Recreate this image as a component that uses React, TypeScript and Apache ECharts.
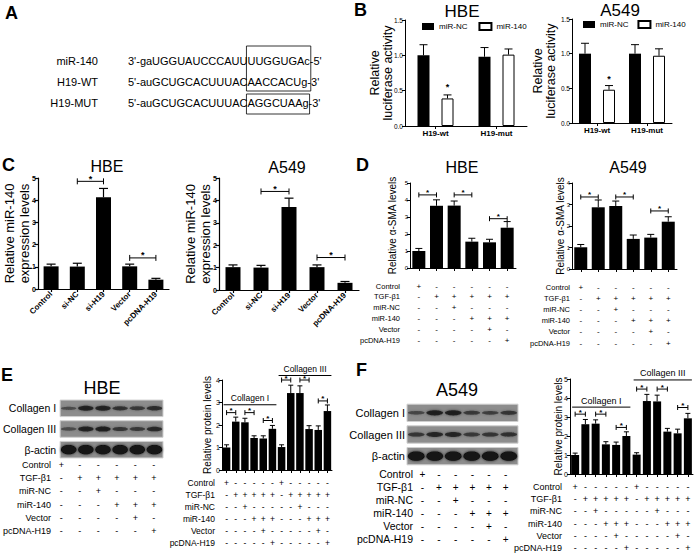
import React, { useEffect, useRef } from "react";
import * as echarts from "echarts";

const FONT = "'Liberation Sans', Arial, Helvetica, sans-serif";
const NARROW = "'Liberation Sans Narrow', 'Arial Narrow', 'Liberation Sans', Arial, sans-serif";

/* ---------------- data ---------------- */
// A: sequences
const seqNames = ["miR-140", "H19-WT", "H19-MUT"];
const seqHead = ["3'-gaUGGUAUCCCAUU", "5'-auGCUGCACUUUAC", "5'-auGCUGCACUUUAC"];
const seqSite = ["UUGGUGAc", "AACCACUg", "AGGCUAAg"];
const seqTail = ["-5'", "-3'", "-3'"];

// B: luciferase
const lucCats = ["H19-wt", "H19-mut"];
const lucNames = ["miR-NC", "miR-140"];
const lucHbeNC = [1.0, 0.98];
const lucHbeNCErr = [0.15, 0.13];
const lucHbe140 = [0.39, 1.01];
const lucHbe140Err = [0.05, 0.08];
const lucA549NC = [1.0, 1.0];
const lucA549NCErr = [0.15, 0.13];
const lucA549140 = [0.48, 0.97];
const lucA549140Err = [0.06, 0.1];
const lucHbeStars = [[0, 1, 0.53]];
const lucA549Stars = [[0, 1, 0.62]];

// C: qPCR miR-140
const qCats = ["Control", "si-NC", "si-H19", "Vector", "pcDNA-H19"];
const qHbe = [1.02, 1.01, 4.13, 1.02, 0.42];
const qHbeErr = [0.1, 0.15, 0.4, 0.1, 0.06];
const qA549 = [1.02, 1.0, 3.7, 1.02, 0.32];
const qA549Err = [0.1, 0.1, 0.4, 0.1, 0.06];
const qHbeBrackets = [[1, 2, 4.85], [3, 4, 1.4]];
const qA549Brackets = [[1, 2, 4.4], [3, 4, 1.45]];

// D: alpha-SMA
const treatRows = ["Control", "TGF-β1", "miR-NC", "miR-140", "Vector", "pcDNA-H19"];
const treatSigns = ["+-----", "-+++++", "--+---", "---+++", "----+-", "-----+"];
const lanes6 = ["1", "2", "3", "4", "5", "6"];
const smaHbe = [1.0, 3.66, 3.67, 1.55, 1.51, 2.37];
const smaHbeErr = [0.15, 0.35, 0.27, 0.2, 0.18, 0.36];
const smaA549 = [1.01, 2.87, 2.93, 1.4, 1.46, 2.2];
const smaA549Err = [0.13, 0.34, 0.23, 0.18, 0.15, 0.23];
const smaHbeBrackets = [[0, 1, 4.3], [2, 3, 4.3], [4, 5, 2.9]];
const smaA549Brackets = [[0, 1, 3.35], [2, 3, 3.35], [4, 5, 2.7]];

// E/F: western blots (band strength per lane)
const blotRows = ["Collagen I", "Collagen III", "β-actin"];
const hbeCol1Bands = [0.35, 0.85, 0.85, 0.65, 0.55, 0.7];
const hbeCol3Bands = [0.35, 0.85, 0.9, 0.6, 0.55, 0.75];
const hbeActinBands = [2, 2, 2, 2, 2, 2];
const a549Col1Bands = [0.4, 0.9, 0.9, 0.55, 0.5, 0.6];
const a549Col3Bands = [0.6, 0.8, 0.8, 0.55, 0.6, 0.65];
const a549ActinBands = [2, 2, 2, 2, 2, 2];

// E/F: protein quantification (Collagen I lanes 1-6, Collagen III lanes 7-12)
const lanes12 = ["1", "2", "3", "4", "5", "6", "7", "8", "9", "10", "11", "12"];
const hbeProt = [1.0, 2.15, 2.12, 1.42, 1.4, 1.83, 1.02, 3.42, 3.42, 1.82, 1.78, 2.62];
const hbeProtErr = [0.12, 0.2, 0.18, 0.1, 0.12, 0.15, 0.1, 0.35, 0.32, 0.15, 0.18, 0.27];
const a549Prot = [1.0, 2.62, 2.65, 1.56, 1.53, 2.0, 1.02, 3.84, 3.82, 2.23, 2.14, 2.93];
const a549ProtErr = [0.1, 0.25, 0.2, 0.14, 0.15, 0.22, 0.1, 0.35, 0.33, 0.17, 0.22, 0.26];
const hbeProtBrackets = [[0, 1, 2.55], [2, 3, 2.55], [4, 5, 2.2], [6, 7, 4.0], [8, 9, 4.0], [10, 11, 3.07]];
const a549ProtBrackets = [[0, 1, 3.15], [2, 3, 3.15], [4, 5, 2.45], [6, 7, 4.47], [8, 9, 4.47], [10, 11, 3.5]];
const protGroupNames = ["Collagen I", "Collagen III"];
const protGroupLanes = [[0, 5], [6, 11]];
const hbeGroupLevels = [2.9, 4.2];
const a549GroupLevels = [3.52, 4.95];

/* ---------------- helpers ---------------- */
const ln = (x1: number, y1: number, x2: number, y2: number, w = 1) => ({
  type: "line",
  shape: { x1, y1, x2, y2 },
  style: { stroke: "#000", lineWidth: w },
});

const tx = (
  x: number,
  y: number,
  text: string,
  size: number,
  align = "center",
  vAlign = "middle",
  weight = "normal",
  family = FONT
) => ({
  type: "text",
  x,
  y,
  silent: true,
  style: {
    text,
    fill: "#000",
    fontSize: size,
    fontFamily: family,
    fontWeight: weight,
    align,
    textAlign: align,
    verticalAlign: vAlign,
    textVerticalAlign: vAlign,
  },
});

function buildOption() {
  const o: any = { grid: [], xAxis: [], yAxis: [], series: [], legend: [], graphic: [] };

  const addGrid = (r: any) => {
    const gi = o.grid.length;
    o.grid.push({ left: r.left, top: r.top, width: r.width, height: r.height });
    return gi;
  };

  function barPanel(p: any) {
    const gi = addGrid(p);
    const lw = p.lw ?? 1;
    o.xAxis.push({
      gridIndex: gi,
      type: "category",
      data: p.cats,
      axisLine: { show: true, lineStyle: { color: "#000", width: lw } },
      axisTick: { show: true, alignWithLabel: true, interval: 0, length: 3, lineStyle: { color: "#000", width: lw } },
      axisLabel: p.catLabel
        ? { show: true, interval: 0, color: "#000", fontFamily: FONT, ...p.catLabel }
        : { show: false },
      splitLine: { show: false },
    });
    o.yAxis.push({
      gridIndex: gi,
      type: "value",
      min: 0,
      max: p.yMax,
      interval: p.yStep,
      axisLine: { show: true, lineStyle: { color: "#000", width: lw } },
      axisTick: { show: true, length: 3, lineStyle: { color: "#000", width: lw } },
      axisLabel: {
        color: "#000",
        fontFamily: FONT,
        fontSize: p.yLabelSize,
        fontWeight: p.yLabelBold ? "bold" : "normal",
        margin: 2,
        formatter: (v: number) => v.toFixed(p.yDec),
      },
      splitLine: { show: false },
      name: p.yName,
      nameLocation: "middle",
      nameGap: p.yNameGap,
      nameMoveOverlap: false,
      nameTextStyle: {
        color: "#000",
        fontFamily: FONT,
        fontSize: p.yNameSize,
        lineHeight: p.yNameLH ?? Math.round(p.yNameSize * 1.1),
      },
    });
    const bars: any[] = p.bars;
    const n = bars.length;
    const pitch = p.pitch ?? 0;
    const gap = n > 1 ? ((pitch - p.barWidth) / p.barWidth) * 100 + "%" : "30%";
    bars.forEach((b) =>
      o.series.push({
        type: "bar",
        name: b.name,
        xAxisIndex: gi,
        yAxisIndex: gi,
        data: b.values,
        barWidth: p.barWidth,
        barGap: gap,
        itemStyle: { color: b.fill, borderColor: "#000", borderWidth: b.fill === "#000" ? 0 : 1 },
      })
    );
    const offs = bars.map((_: any, k: number) => (k - (n - 1) / 2) * pitch);
    // error bars (upper only)
    const errs: number[][] = [];
    bars.forEach((b: any, k: number) => b.values.forEach((v: number, ci: number) => errs.push([ci, v, b.errs[ci], k])));
    o.series.push({
      type: "custom",
      xAxisIndex: gi,
      yAxisIndex: gi,
      clip: false,
      z: 3,
      silent: true,
      data: errs,
      renderItem: (params: any, api: any) => {
        const [ci, v, e, k] = errs[params.dataIndex];
        const p0 = api.coord([ci, v]);
        const p1 = api.coord([ci, v + e]);
        const x = p0[0] + offs[k];
        return {
          type: "group",
          children: [ln(x, p0[1], x, p1[1], p.errW ?? 1), ln(x - p.capW / 2, p1[1], x + p.capW / 2, p1[1], p.errW ?? 1)],
        };
      },
    });
    if (p.stars) {
      const st: number[][] = p.stars;
      o.series.push({
        type: "custom",
        xAxisIndex: gi,
        yAxisIndex: gi,
        clip: false,
        z: 4,
        silent: true,
        data: st,
        renderItem: (params: any, api: any) => {
          const [ci, k, lv] = st[params.dataIndex];
          const pt = api.coord([ci, lv]);
          return tx(pt[0] + offs[k], pt[1] + 3, "*", p.starSize, "center", "bottom", "bold");
        },
      });
    }
    if (p.brackets) {
      const br: number[][] = p.brackets;
      o.series.push({
        type: "custom",
        xAxisIndex: gi,
        yAxisIndex: gi,
        clip: false,
        z: 4,
        silent: true,
        data: br,
        renderItem: (params: any, api: any) => {
          const [a, b, lv] = br[params.dataIndex];
          const p1 = api.coord([a, lv]);
          const p2 = api.coord([b, lv]);
          const t = p.tickH ?? 2.5;
          return {
            type: "group",
            children: [
              ln(p1[0], p1[1], p2[0], p2[1]),
              ln(p1[0], p1[1] - t, p1[0], p1[1] + t),
              ln(p2[0], p2[1] - t, p2[0], p2[1] + t),
              tx((p1[0] + p2[0]) / 2, p1[1] + 2, "*", p.starSize, "center", "bottom", "bold"),
            ],
          };
        },
      });
    }
    if (p.groups) {
      const gr: any[] = p.groups;
      o.series.push({
        type: "custom",
        xAxisIndex: gi,
        yAxisIndex: gi,
        clip: false,
        z: 4,
        silent: true,
        data: gr.map((g) => [g[0], g[2]]),
        renderItem: (params: any, api: any) => {
          const [a, b, lv, name] = gr[params.dataIndex];
          const p1 = api.coord([a, lv]);
          const p2 = api.coord([b, lv]);
          const x1 = p1[0] - 3;
          const x2 = p2[0] + 4;
          return {
            type: "group",
            children: [ln(x1, p1[1], x2, p1[1]), tx((x1 + x2) / 2, p1[1] - 2, name, p.groupSize, "center", "bottom", "normal", NARROW)],
          };
        },
      });
    }
  }

  function tablePanel(p: any) {
    const gi = addGrid(p);
    o.xAxis.push({ gridIndex: gi, type: "category", data: p.cols, show: false });
    o.yAxis.push({
      gridIndex: gi,
      type: "category",
      data: treatRows,
      inverse: true,
      axisLine: { show: false },
      axisTick: { show: false },
      splitLine: { show: false },
      axisLabel: { show: true, interval: 0, color: "#000", fontFamily: NARROW, fontSize: p.labelSize, margin: p.labelMargin },
    });
    const cells: any[] = [];
    treatRows.forEach((_, r) => p.cols.forEach((_c: string, c: number) => cells.push([c, r, treatSigns[r][c % 6]])));
    o.series.push({
      type: "custom",
      xAxisIndex: gi,
      yAxisIndex: gi,
      clip: false,
      silent: true,
      data: cells.map((d) => [d[0], d[1]]),
      renderItem: (params: any, api: any) => {
        const [c, r, s] = cells[params.dataIndex];
        const pt = api.coord([c, r]);
        return tx(pt[0], pt[1], s, p.signSize, "center", "middle", "normal", NARROW);
      },
    });
  }

  function blotPanel(p: any) {
    const gi = addGrid(p);
    o.xAxis.push({ gridIndex: gi, type: "category", data: lanes6, show: false });
    o.yAxis.push({
      gridIndex: gi,
      type: "category",
      data: blotRows,
      inverse: true,
      axisLine: { show: false },
      axisTick: { show: false },
      splitLine: { show: false },
      axisLabel: { show: true, interval: 0, color: "#000", fontFamily: NARROW, fontSize: p.labelSize, margin: p.labelMargin },
    });
    const strips = blotRows.map((_, r) => [0, r]);
    o.series.push({
      type: "custom",
      xAxisIndex: gi,
      yAxisIndex: gi,
      clip: false,
      silent: true,
      z: 1,
      data: strips,
      renderItem: (params: any, api: any) => {
        const r = strips[params.dataIndex][1];
        const cy = api.coord([0, r])[1];
        const h = api.size([1, 1])[1] * 0.8;
        const cs = params.coordSys;
        return {
          type: "rect",
          shape: { x: cs.x, y: cy - h / 2, width: cs.width, height: h },
          style: { fill: "#8d8d8d", stroke: "#cfcfcf", lineWidth: 1 },
        };
      },
    });
    const bands: number[][] = [];
    p.bands.forEach((row: number[], r: number) => row.forEach((v, l) => bands.push([l, r, v])));
    o.series.push({
      type: "custom",
      xAxisIndex: gi,
      yAxisIndex: gi,
      clip: false,
      silent: true,
      z: 2,
      data: bands.map((b) => [b[0], b[1]]),
      renderItem: (params: any, api: any) => {
        const [l, r, v] = bands[params.dataIndex];
        const pt = api.coord([l, r]);
        const bw = api.size([1, 1])[0];
        const a = Math.min(1, 0.3 + 0.55 * v);
        return {
          type: "ellipse",
          shape: { cx: pt[0], cy: pt[1], rx: bw * 0.45, ry: 1 + 1.8 * v },
          style: { fill: `rgba(18,18,18,${a})`, shadowBlur: 3, shadowColor: `rgba(0,0,0,${a * 0.8})` },
        };
      },
    });
  }

  /* ---------- panel B ---------- */
  barPanel({
    left: 405, top: 20, width: 122, height: 106,
    cats: lucCats, catLabel: { fontSize: 8, fontWeight: "bold", margin: 3 },
    yMax: 1.5, yStep: 0.5, yDec: 1, yLabelSize: 6.5,
    yName: "Relative\nluciferase activity", yNameSize: 12.5, yNameLH: 13, yNameGap: 11,
    bars: [
      { name: lucNames[0], values: lucHbeNC, errs: lucHbeNCErr, fill: "#000" },
      { name: lucNames[1], values: lucHbe140, errs: lucHbe140Err, fill: "#fff" },
    ],
    barWidth: 12, pitch: 24, capW: 8, stars: lucHbeStars, starSize: 9,
  });
  barPanel({
    left: 572, top: 19, width: 100, height: 104,
    cats: lucCats, catLabel: { fontSize: 8, fontWeight: "bold", margin: 3 },
    yMax: 1.5, yStep: 0.5, yDec: 1, yLabelSize: 6.5,
    yName: "Relative\nluciferase activity", yNameSize: 12.5, yNameLH: 13, yNameGap: 15,
    bars: [
      { name: lucNames[0], values: lucA549NC, errs: lucA549NCErr, fill: "#000" },
      { name: lucNames[1], values: lucA549140, errs: lucA549140Err, fill: "#fff" },
    ],
    barWidth: 12, pitch: 24, capW: 8, stars: lucA549Stars, starSize: 9,
  });
  const legendBase = {
    data: lucNames, icon: "rect", itemWidth: 12, itemHeight: 7, padding: 0, selectedMode: false,
    orient: "horizontal", textStyle: { fontSize: 8, fontFamily: FONT, color: "#000" },
  };
  o.legend.push({ ...legendBase, left: 422, top: 22, itemGap: 11 });
  o.legend.push({ ...legendBase, left: 583, top: 20, itemGap: 9 });

  /* ---------- panel C ---------- */
  const cLabel = { fontSize: 8, fontWeight: "bold", rotate: 45, margin: 4 };
  barPanel({
    left: 38, top: 178, width: 131, height: 111, lw: 1.2,
    cats: qCats, catLabel: cLabel,
    yMax: 5, yStep: 1, yDec: 0, yLabelSize: 7, yLabelBold: true,
    yName: "Relative miR-140\nexpression levels", yNameSize: 13, yNameLH: 15, yNameGap: 6.5,
    bars: [{ name: "HBE-qpcr", values: qHbe, errs: qHbeErr, fill: "#000" }],
    barWidth: 15, capW: 9, errW: 1.2, brackets: qHbeBrackets, starSize: 9, tickH: 3,
  });
  barPanel({
    left: 219, top: 178, width: 140, height: 112, lw: 1.2,
    cats: qCats, catLabel: cLabel,
    yMax: 5, yStep: 1, yDec: 0, yLabelSize: 7, yLabelBold: true,
    yName: "Relative miR-140\nexpression levels", yNameSize: 13, yNameLH: 15, yNameGap: 6.5,
    bars: [{ name: "A549-qpcr", values: qA549, errs: qA549Err, fill: "#000" }],
    barWidth: 15, capW: 9, errW: 1.2, brackets: qA549Brackets, starSize: 9, tickH: 3,
  });

  /* ---------- panel D ---------- */
  barPanel({
    left: 410, top: 183, width: 106, height: 85,
    cats: lanes6, catLabel: null,
    yMax: 5, yStep: 1, yDec: 0, yLabelSize: 6,
    yName: "Relative α-SMA levels", yNameSize: 10, yNameGap: 12,
    bars: [{ name: "HBE-sma", values: smaHbe, errs: smaHbeErr, fill: "#000" }],
    barWidth: 13, capW: 7, brackets: smaHbeBrackets, starSize: 8,
  });
  barPanel({
    left: 572, top: 183, width: 105, height: 86,
    cats: lanes6, catLabel: null,
    yMax: 4, yStep: 1, yDec: 0, yLabelSize: 6,
    yName: "Relative α-SMA levels", yNameSize: 10, yNameGap: 6.5,
    bars: [{ name: "A549-sma", values: smaA549, errs: smaA549Err, fill: "#000" }],
    barWidth: 13, capW: 7, brackets: smaA549Brackets, starSize: 8,
  });
  tablePanel({ left: 410, top: 280.6, width: 106, height: 64.8, cols: lanes6, labelSize: 7.5, labelMargin: 10, signSize: 8 });
  tablePanel({ left: 572, top: 281.4, width: 105, height: 67.2, cols: lanes6, labelSize: 7.5, labelMargin: 2, signSize: 8 });

  /* ---------- panel E ---------- */
  blotPanel({ left: 52, top: 398, width: 111, height: 62, labelSize: 10.5, labelMargin: 4, bands: [hbeCol1Bands, hbeCol3Bands, hbeActinBands] });
  tablePanel({ left: 52, top: 458.4, width: 111, height: 79.2, cols: lanes6, labelSize: 9, labelMargin: 1, signSize: 9 });
  const hbeGroups = protGroupNames.map((nm, i) => [protGroupLanes[i][0], protGroupLanes[i][1], hbeGroupLevels[i], nm]);
  barPanel({
    left: 222, top: 380, width: 110, height: 90,
    cats: lanes12, catLabel: null,
    yMax: 4, yStep: 1, yDec: 0, yLabelSize: 7,
    yName: "Relative protein levels", yNameSize: 10, yNameGap: 9.5,
    bars: [{ name: "HBE-prot", values: hbeProt, errs: hbeProtErr, fill: "#000" }],
    barWidth: 7.5, capW: 5, brackets: hbeProtBrackets, starSize: 8, tickH: 2.5,
    groups: hbeGroups, groupSize: 8.5,
  });
  tablePanel({ left: 222, top: 477, width: 110, height: 72, cols: lanes12, labelSize: 8.5, labelMargin: 7, signSize: 8.5 });

  /* ---------- panel F ---------- */
  blotPanel({ left: 407, top: 402, width: 111, height: 65, labelSize: 11, labelMargin: 2, bands: [a549Col1Bands, a549Col3Bands, a549ActinBands] });
  tablePanel({ left: 414, top: 467.5, width: 100, height: 78, cols: lanes6, labelSize: 10.5, labelMargin: 1, signSize: 10 });
  const a549Groups = protGroupNames.map((nm, i) => [protGroupLanes[i][0], protGroupLanes[i][1], a549GroupLevels[i], nm]);
  barPanel({
    left: 570, top: 379, width: 123, height: 95,
    cats: lanes12, catLabel: null,
    yMax: 5, yStep: 1, yDec: 0, yLabelSize: 7,
    yName: "Relative protein levels", yNameSize: 10, yNameGap: 6.5,
    bars: [{ name: "A549-prot", values: a549Prot, errs: a549ProtErr, fill: "#000" }],
    barWidth: 8, capW: 5, brackets: a549ProtBrackets, starSize: 8, tickH: 2.5,
    groups: a549Groups, groupSize: 9,
  });
  tablePanel({ left: 570, top: 481, width: 123, height: 73, cols: lanes12, labelSize: 9, labelMargin: 8, signSize: 9 });

  /* ---------- panel A (text + boxes) ---------- */
  const ctx = document.createElement("canvas").getContext("2d") as CanvasRenderingContext2D;
  ctx.font = `11px 'Liberation Sans', Arial, sans-serif`;
  const w = (s: string) => ctx.measureText(s).width;
  const seqX = 128;
  const rowY = [61, 82, 103];
  seqNames.forEach((nm, i) => {
    o.graphic.push(tx(98, rowY[i], nm, 11, "right", "middle"));
    o.graphic.push(tx(seqX, rowY[i], seqHead[i] + seqSite[i] + seqTail[i], 11, "left", "middle"));
  });
  const bx1 = seqX + Math.min(w(seqHead[0]), w(seqHead[1])) - 1;
  const bx1r = seqX + Math.max(w(seqHead[0] + seqSite[0]), w(seqHead[1] + seqSite[1])) + 1;
  const bx2 = seqX + w(seqHead[2]) - 1;
  const bx2r = seqX + w(seqHead[2] + seqSite[2]) + 1;
  o.graphic.push({ type: "rect", shape: { x: bx1, y: 46, width: bx1r - bx1, height: 45 }, style: { fill: "none", stroke: "#000", lineWidth: 0.8 } });
  o.graphic.push({ type: "rect", shape: { x: bx2, y: 94, width: bx2r - bx2, height: 20 }, style: { fill: "none", stroke: "#000", lineWidth: 0.8 } });

  /* ---------- letters & titles ---------- */
  const letters: [string, number, number][] = [["A", 5, 4], ["B", 354, 1], ["C", 2, 156], ["D", 356, 156], ["E", 1, 366], ["F", 356, 361]];
  letters.forEach(([t, x, y]) => o.graphic.push(tx(x, y, t, 18, "left", "top", "bold")));
  const titles: [string, number, number, number][] = [
    ["HBE", 462, 3, 17], ["A549", 620, 2, 17],
    ["HBE", 107, 158, 16], ["A549", 287, 159, 16],
    ["HBE", 462, 159, 16], ["A549", 628, 159, 16],
    ["HBE", 102, 379, 18], ["A549", 457, 381, 18],
  ];
  titles.forEach(([t, x, y, s]) => o.graphic.push(tx(x, y, t, s, "center", "top")));

  return {
    animation: false,
    backgroundColor: "#ffffff",
    textStyle: { fontFamily: FONT },
    ...o,
  };
}

export default function App() {
  const ref = useRef<HTMLDivElement>(null);
  useEffect(() => {
    if (!ref.current) return;
    const chart = echarts.init(ref.current, null, { renderer: "svg" });
    chart.setOption(buildOption() as any);
    return () => chart.dispose();
  }, []);
  return (
    <div
      ref={ref}
      style={{ position: "absolute", left: 0, top: 0, width: 696, height: 557, background: "#fff" }}
    />
  );
}
